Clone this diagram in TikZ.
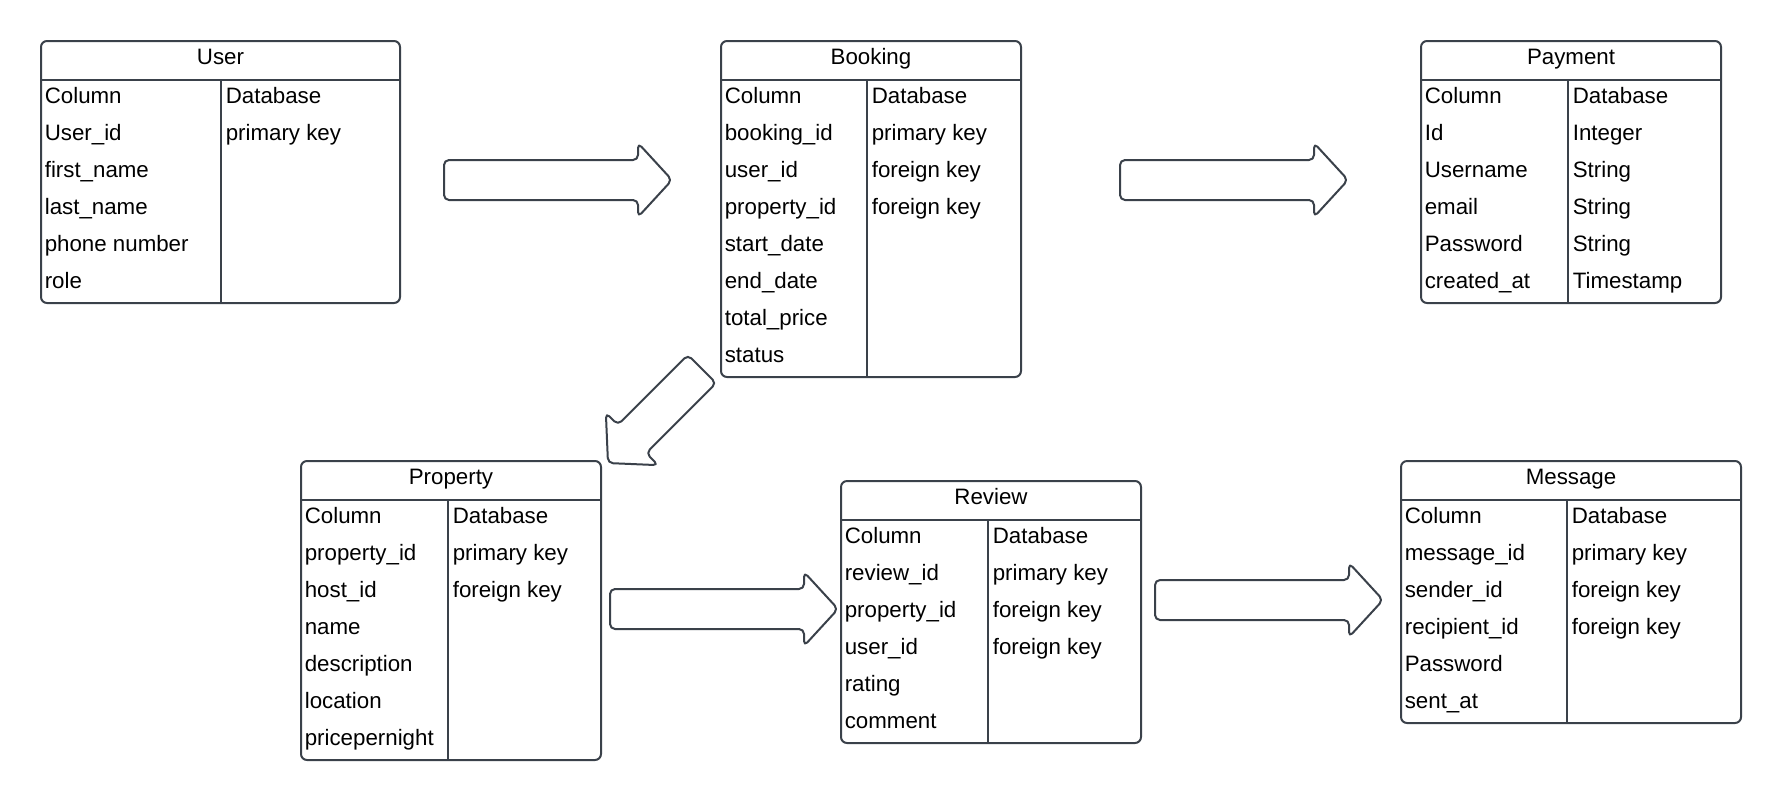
\documentclass[tikz,border=0pt]{standalone}
\usepackage{fontspec}
\setmainfont{Liberation Sans}
\usepackage{tikz}
\usetikzlibrary{positioning}
\definecolor{linegray}{RGB}{58,65,74}

\tikzset{
  tablebox/.style={draw=linegray, line width=1pt, rounded corners=3pt, inner sep=0pt},
  tablerule/.style={draw=linegray, line width=1pt},
  celltext/.style={anchor=base west, inner sep=0pt, font=\fontsize{11.15}{13}\selectfont},
  headtext/.style={anchor=base, inner sep=0pt, font=\fontsize{11.15}{13}\selectfont},
  fatarrow/.style={draw=linegray, line width=1pt, rounded corners=2.5pt, line join=round},
}

% name, left, top, width, first column, rows, title, cells
\newcommand{\ertable}[8]{
  \node[tablebox, anchor=north west, minimum width={#4*0.5pt},
        minimum height={(40+37*#6)*0.5pt}] (#1) at (#2,#3) {};
  \node[headtext] (#1-title) at ([yshift=-12.25pt]#1.north) {#7};
  \draw[tablerule] ([yshift=-20pt]#1.north west) -- ([yshift=-20pt]#1.north east);
  \draw[tablerule] ([xshift={#5*0.5pt}, yshift=-20pt]#1.north west) -- ([xshift={#5*0.5pt}]#1.south west);
  \foreach \ca/\cb [count=\r] in {#8} {
    \node[celltext] (#1-c\r) at ([xshift=2.2pt, yshift={-31.5pt-(\r-1)*18.5pt}]#1.north west) {\ca};
    \ifx\cb\empty\else
      \node[celltext] (#1-d\r) at ([xshift={#5*0.5pt+2.2pt}, yshift={-31.5pt-(\r-1)*18.5pt}]#1.north west) {\cb};
    \fi
  }
}

% name, centre, angle, length
\newcommand{\blockarrow}[4]{
  \coordinate (#1) at (#2);
  \begin{scope}[shift={(#1)}, rotate=#3]
    \draw[fatarrow] ({-#4/2},-20) -- ({#4/2-34},-20) -- ({#4/2-34},-37) -- ({#4/2},0)
      -- ({#4/2-34},37) -- ({#4/2-34},20) -- ({-#4/2},20) -- cycle;
  \end{scope}
}

\begin{document}
\begin{tikzpicture}[x=0.5pt, y=-0.5pt]
  \useasboundingbox (0,0) rectangle (1780,799);

  \ertable{user}{40}{40}{359}{181}{6}{User}{Column/Database, User\_id/primary key,
    first\_name/, last\_name/, phone number/, role/}
  \ertable{booking}{720}{40}{300}{147}{8}{Booking}{Column/Database, booking\_id/primary key,
    user\_id/foreign key, property\_id/foreign key, start\_date/, end\_date/, total\_price/, status/}
  \ertable{payment}{1420}{40}{300}{148}{6}{Payment}{Column/Database, Id/Integer,
    Username/String, email/String, Password/String, created\_at/Timestamp}
  \ertable{property}{300}{460}{300}{148}{7}{Property}{Column/Database, property\_id/primary key,
    host\_id/foreign key, name/, description/, location/, pricepernight/}
  \ertable{review}{840}{480}{300}{148}{6}{Review}{Column/Database, review\_id/primary key,
    property\_id/foreign key, user\_id/foreign key, rating/, comment/}
  \ertable{message}{1400}{460}{340}{167}{6}{Message}{Column/Database, message\_id/primary key,
    sender\_id/foreign key, recipient\_id/foreign key, Password/, sent\_at/}

  \blockarrow{user-booking}{558,180}{0}{228}
  \blockarrow{booking-payment}{1234,180}{0}{228}
  \blockarrow{booking-property}{655,416}{225}{133}
  \blockarrow{property-review}{724,609}{0}{228}
  \blockarrow{review-message}{1269,600}{0}{228}
\end{tikzpicture}
\end{document}
